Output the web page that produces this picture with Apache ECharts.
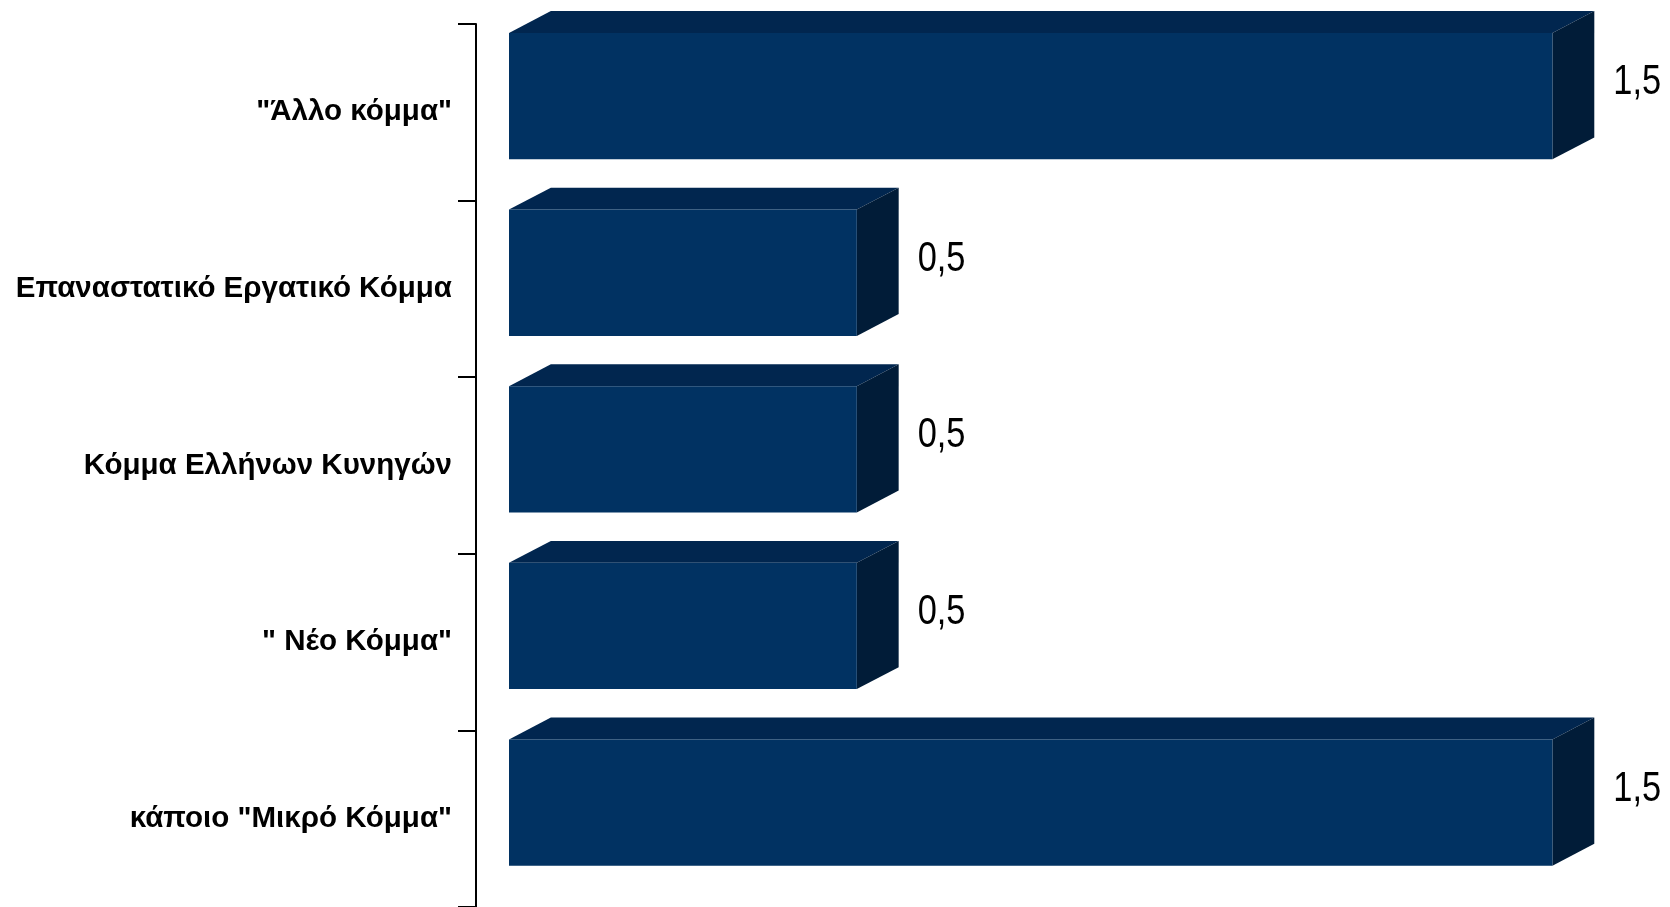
<!DOCTYPE html>
<html>
<head>
<meta charset="utf-8">
<script src="https://cdn.jsdelivr.net/npm/echarts@6/dist/echarts.min.js"></script>
<style>
html,body{margin:0;padding:0;background:#fff;}
#chart{width:1670px;height:907px;}
</style>
</head>
<body>
<div id="chart"></div>
<script>
const categories = ['"Άλλο κόμμα"', 'Επαναστατικό Εργατικό Κόμμα', 'Κόμμα Ελλήνων Κυνηγών', '" Νέο Κόμμα"', 'κάποιο "Μικρό Κόμμα"'];
const values = [1.5, 0.5, 0.5, 0.5, 1.5];
const valueLabels = ['1,5', '0,5', '0,5', '0,5', '1,5'];

const chart = echarts.init(document.getElementById('chart'));

function renderItem(params, api) {
  const idx = api.value(1);
  const val = api.value(0);
  const p0 = api.coord([0, idx]);
  const p1 = api.coord([val, idx]);
  const band = api.size([0, 1])[1];
  const cy = p0[1];
  const x0 = p0[0], x1 = p1[0];
  const top = cy - band * 0.449;
  const bot = cy + band * 0.266;
  const dx = band * 0.237, dy = band * 0.124;
  return {
    type: 'group',
    children: [
      { type: 'polygon', shape: { points: [[x0, top], [x0 + dx, top - dy], [x1 + dx, top - dy], [x1, top]] },
        style: { fill: '#01264F' } },
      { type: 'polygon', shape: { points: [[x1, top], [x1 + dx, top - dy], [x1 + dx, bot - dy], [x1, bot]] },
        style: { fill: '#011C38' } },
      { type: 'rect', shape: { x: x0, y: top, width: x1 - x0, height: bot - top },
        style: { fill: '#013262' } },
      { type: 'text', x: x1 + dx + 19, y: cy - band * 0.17, scaleX: 0.8,
        style: { text: valueLabels[params.dataIndex], fill: '#000', font: '43px "Liberation Sans", Arial, sans-serif',
          textAlign: 'left', textVerticalAlign: 'middle' } }
    ]
  };
}

chart.setOption({
  animation: false,
  grid: { left: 509, top: 24, width: 1113, height: 886 },
  xAxis: { type: 'value', min: 0, max: 1.6, show: false, splitLine: { show: false } },
  yAxis: {
    type: 'category', data: categories, inverse: true, offset: 33,
    axisLine: { show: true, onZero: false, lineStyle: { color: '#000', width: 2 } },
    axisTick: { show: true, length: 18, lineStyle: { color: '#000', width: 2 } },
    axisLabel: { margin: 24, color: '#000', fontSize: 29.5, fontWeight: 'bold', fontFamily: '"Liberation Sans", Arial, sans-serif' }
  },
  series: [{
    type: 'custom',
    renderItem: renderItem,
    encode: { x: 0, y: 1 },
    data: values.map((v, i) => [v, i]),
    clip: false
  }]
});
</script>
</body>
</html>
